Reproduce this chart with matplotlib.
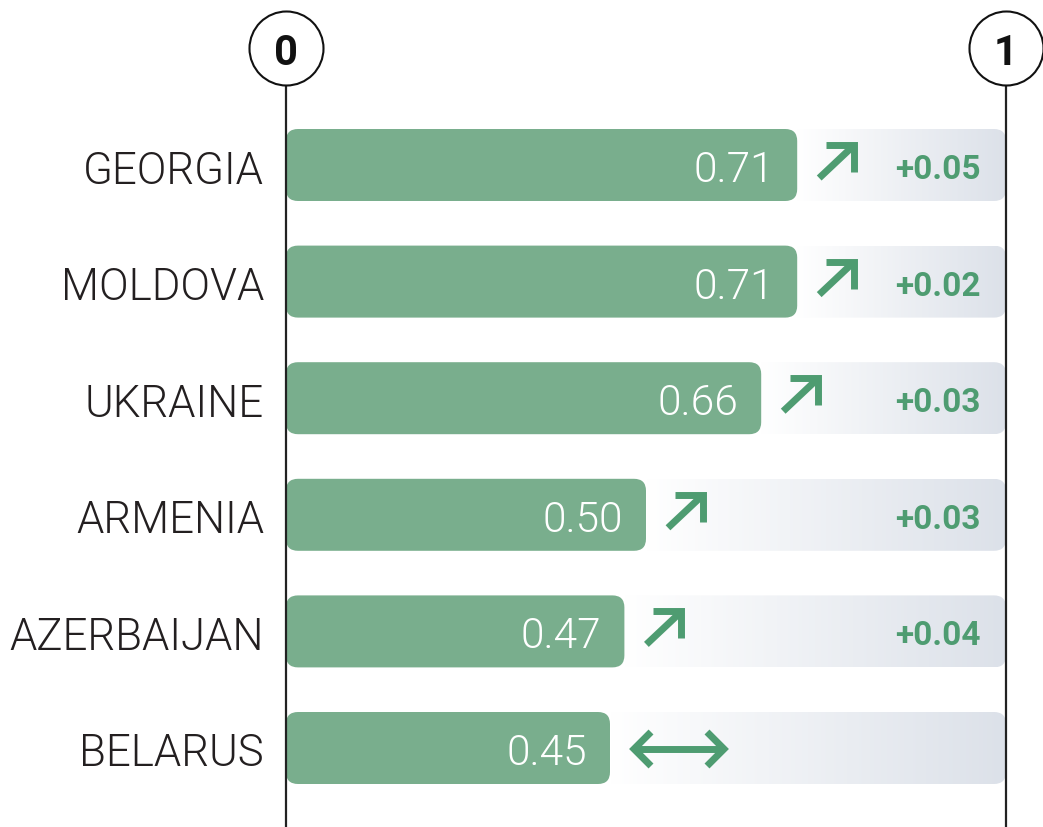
import numpy as np
import matplotlib
matplotlib.use("Agg")
import matplotlib.pyplot as plt
from matplotlib.patches import FancyBboxPatch
from matplotlib.colors import LinearSegmentedColormap

countries = ["GEORGIA", "MOLDOVA", "UKRAINE", "ARMENIA", "AZERBAIJAN", "BELARUS"]
values = [0.71, 0.71, 0.66, 0.50, 0.47, 0.45]
value_labels = ["0.71", "0.71", "0.66", "0.50", "0.47", "0.45"]
changes = ["+0.05", "+0.02", "+0.03", "+0.03", "+0.04", ""]
trend = ["up", "up", "up", "up", "up", "flat"]
scale_ends = [0, 1]

W, H = 1043, 827
fig = plt.figure(figsize=(W / 100, H / 100), dpi=100)
ax = fig.add_axes([0, 0, 1, 1])
ax.axis("off")

X0, XS = 286, 720.0      # pixel of x=0, pixels per unit
Y0, YS = 165, 116.6      # pixel of row 0 center, pixels per row
ax.set_xlim(-X0 / XS, (W - X0) / XS)
ax.set_ylim((H - Y0) / YS, -Y0 / YS)

def px(d):
    return d / XS

def py(d):
    return d / YS

BAR = "#79ae8d"
DARK = "#4e9c71"
TXT = "#231f20"
bar_h = py(72)
rnd = px(12)
asp = XS / YS

cmap = LinearSegmentedColormap.from_list("g", ["#ffffff", "#dce1e9"])
grad = np.linspace(0, 1, 256).reshape(1, -1)

for i, (c, v, vl, ch, tr) in enumerate(zip(countries, values, value_labels, changes, trend)):
    # background track
    bg = FancyBboxPatch((0, i - bar_h / 2), 1, bar_h,
                        boxstyle=f"round,pad=0,rounding_size={rnd}",
                        mutation_aspect=asp, fc="none", ec="none")
    ax.add_patch(bg)
    im = ax.imshow(grad, cmap=cmap, aspect="auto",
                   extent=[v, 1, i + bar_h / 2, i - bar_h / 2], zorder=1)
    im.set_clip_path(bg)
    # green bar
    ax.add_patch(FancyBboxPatch((0, i - bar_h / 2), v, bar_h,
                                boxstyle=f"round,pad=0,rounding_size={rnd}",
                                mutation_aspect=asp, fc=BAR, ec="none", zorder=2))
    # labels
    ax.text(-px(22), i + py(18.5), c, ha="right", va="baseline",
            fontsize=31.5, fontfamily="Roboto", fontweight=300, color=TXT)
    ax.text(v - px(23), i + py(17), vl, ha="right", va="baseline",
            fontsize=30.5, fontfamily="Roboto", fontweight=300, color="white", zorder=3)
    if ch:
        ax.text(1 - px(25), i + py(14), ch, ha="right", va="baseline",
                fontsize=24, fontfamily="Roboto", fontweight="bold", color=DARK, zorder=3)
    # trend arrows
    a = v + px(20)
    kw = dict(color=DARK, lw=5, solid_joinstyle="miter", solid_capstyle="butt", zorder=3)
    if tr == "up":
        ax.plot([a + px(2), a + px(36)], [i + py(13), i - py(19)], **kw)
        ax.plot([a + px(9), a + px(37), a + px(37)],
                [i - py(20), i - py(20), i + py(7)], **kw)
    else:
        ax.plot([a + px(4), a + px(94)], [i + py(1), i + py(1)], **kw)
        ax.plot([a + px(21), a + px(4), a + px(21)],
                [i - py(16), i + py(1), i + py(18)], **kw)
        ax.plot([a + px(77), a + px(94), a + px(77)],
                [i - py(16), i + py(1), i + py(18)], **kw)

# scale end markers
top = -1.0
for s in scale_ends:
    ax.plot([s, s], [top + py(37), (H - Y0) / YS + 1], color="#222222", lw=1.6, zorder=4)
    ax.scatter([s], [top], s=(74 * 0.72) ** 2, facecolor="white",
               edgecolor="#111111", linewidth=1.5, zorder=5)
    ax.text(s, top + py(17), str(s), ha="center", va="baseline",
            fontsize=30, fontfamily="Roboto", fontweight="bold", color="#111111", zorder=6)

fig.savefig("out.png", dpi=100)
